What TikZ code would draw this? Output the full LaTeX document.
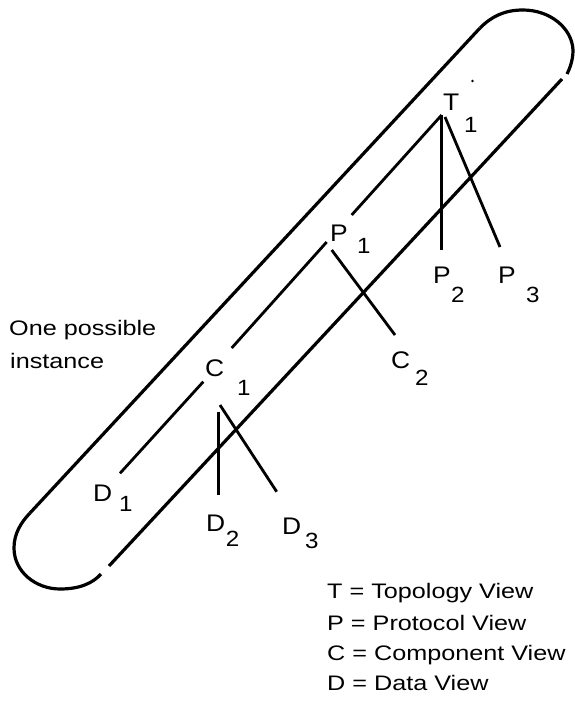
\documentclass[tikz,border=0pt]{standalone}
\usepackage{fontspec}
\setmainfont{Liberation Sans}
\newfontfamily\widefont[FakeStretch=1.2]{Liberation Sans}
\newfontfamily\lblfont[FakeStretch=1.1]{Liberation Sans}
\begin{document}
\begin{tikzpicture}[x=1pt,y=-1pt,
  capsule/.style={line width=3.2pt},
  branch/.style={line width=2.8pt},
  letter/.style={anchor=base west, inner sep=0pt, font=\lblfont\fontsize{24}{28}\selectfont},
  digit/.style={anchor=base west, inner sep=0pt, font=\lblfont\fontsize{22}{26}\selectfont},
  txt/.style={anchor=base west, inner sep=0pt, font=\widefont\fontsize{21}{25}\selectfont}]
\useasboundingbox (0,0) rectangle (574,702);
\fill[white] (0,0) rectangle (574,702);

% capsule outline
\coordinate (uTop) at (480,28);
\coordinate (uBot) at (30,513);
\coordinate (lTop) at (562,79);
\coordinate (lBot) at (109,566);
\coordinate (capEnd) at (101,574);
\coordinate (topEnd) at (567,74);
\draw[capsule] (uTop) -- (uBot);
\draw[capsule] (lBot) -- (lTop);
\draw[capsule] (uBot) .. controls (20.5,523) and (14,534) .. (14,548)
  .. controls (14,572) and (36,589) .. (60,589)
  .. controls (80,589) and (93,583) .. (capEnd);
\draw[capsule] (uTop) .. controls (492,16) and (505,10) .. (523,10)
  .. controls (550,10) and (572,28) .. (573,50)
  .. controls (573,60) and (570,68) .. (topEnd);

% labels
\node[letter] (T1l) at (443,110) {T};
\node[digit]  (T1s) at (464,132) {1};
\node[letter] (P1l) at (330,241.7) {P};
\node[digit]  (P1s) at (357,253) {1};
\node[letter] (P2l) at (433,283) {P};
\node[digit]  (P2s) at (451,302) {2};
\node[letter] (P3l) at (498,283) {P};
\node[digit]  (P3s) at (526,302) {3};
\node[letter] (C1l) at (205,376) {C};
\node[digit]  (C1s) at (237,395) {1};
\node[letter] (C2l) at (391,368) {C};
\node[digit]  (C2s) at (415,385) {2};
\node[letter] (D1l) at (93,501.7) {D};
\node[digit]  (D1s) at (119,511.7) {1};
\node[letter] (D2l) at (206,531.7) {D};
\node[digit]  (D2s) at (225.7,546.7) {2};
\node[letter] (D3l) at (282,534) {D};
\node[digit]  (D3s) at (305,548) {3};

% connector end points
\coordinate (tA) at (441.7,115);
\coordinate (tB) at (445,117);
\coordinate (p1top) at (351.7,215);
\coordinate (p1bot) at (326.7,242);
\coordinate (p1r) at (331.7,250);
\coordinate (p2) at (441.7,250);
\coordinate (p3) at (500,247);
\coordinate (c1top) at (231.7,348);
\coordinate (c1l) at (203.3,381.7);
\coordinate (c1a) at (218.3,411.7);
\coordinate (c1b) at (220,405);
\coordinate (c2) at (395,335);
\coordinate (d1) at (120,473.3);
\coordinate (d2) at (218.3,495);
\coordinate (d3) at (276.7,491.7);
\coordinate (dot) at (472.5,81);

\draw[branch] (tA) -- (p1top);
\draw[branch] (tA) -- (p2);
\draw[branch] (tB) -- (p3);
\draw[branch] (p1bot) -- (c1top);
\draw[branch] (p1r) -- (c2);
\draw[branch] (c1l) -- (d1);
\draw[branch] (c1a) -- (d2);
\draw[branch] (c1b) -- (d3);
\fill (dot) circle (1.4);

% texts
\node[txt] (one) at (9,335) {One possible};
\node[txt] (inst) at (10,368) {instance};
\node[txt] (legT) at (327,598) {T = Topology View};
\node[txt] (legP) at (327,630) {P = Protocol View};
\node[txt] (legC) at (327,660) {C = Component View};
\node[txt] (legD) at (327,690) {D = Data View};
\end{tikzpicture}
\end{document}
